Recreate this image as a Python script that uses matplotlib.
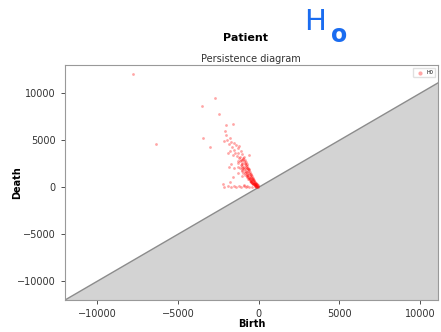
import numpy as np
from matplotlib import pyplot as plt

# birth / death pairs (H0)
birth_far = [-7780, -2720, -3510, -2480, -3470, -6380, -3015, -2000, -1590, -2060,
             -2040, -2170, -1960, -1800, -600, -2230, -2170, -1590]
death_far = [12070, 9520, 8670, 7750, 5200, 4600, 4320, 6580, 6690, 5980,
             5520, 4920, 5020, 5280, 3400, 320, 70, 1130]

birth_mid = [-1850, -1700, -1500, -1400, -1650, -1300, -1200, -1550, -1750, -1100,
             -1450, -1250, -1000, -1350, -1150, -1600, -1900, -950, -1050, -1250,
             -1700, -1850, -1550, -1300, -1050, -1800, -1500, -1200, -900, -700,
             -1000, -850]
death_mid = [4600, 4800, 4700, 4500, 4300, 4200, 4400, 4000, 3900, 3900,
             3700, 3600, 3500, 3300, 3200, 3400, 3600, 3100, 2900, 2800,
             2500, 2200, 2000, 1500, 1200, 600, 100, 150, 200, 100,
             2000, 2500]

birth_dense = [-950, -900, -880, -850, -820, -800, -780, -760, -740, -720,
               -700, -680, -660, -640, -620, -600, -580, -560, -540, -520,
               -500, -480, -460, -440, -420, -400, -380, -360, -340, -320,
               -300, -280, -260, -240, -220, -200, -180, -160, -140, -120,
               -100, -80, -60, -40, -20,
               -1000, -900, -800, -700, -650, -550, -450, -350, -1100, -1000,
               -850, -750, -600, -500, -400, -300, -250, -150,
               -1900, -1700, -1400, -1100, -900, -800, -600, -400]
death_dense = [3000, 2800, 3200, 2600, 2900, 2400, 2700, 2200, 2500, 2000,
               2300, 1900, 2100, 1700, 1900, 1500, 1800, 1400, 1600, 1200,
               1450, 1100, 1300, 950, 1150, 850, 1000, 750, 900, 650,
               800, 550, 700, 450, 600, 400, 500, 300, 400, 250,
               300, 150, 200, 100, 80,
               2600, 2200, 1900, 1600, 1300, 1000, 700, 500, 2400, 1800,
               1500, 1200, 900, 700, 450, 300, 200, 150,
               100, 80, 60, 50, 120, 60, 50, 30]

# second pass along the stripe (wider band)
birth_band = [-1200, -1150, -1100, -1050, -1000, -950, -900, -850, -800, -750,
              -700, -650, -600, -550, -500, -450, -400, -350, -300, -250,
              -200, -150, -100, -1300, -1250, -1150, -1050, -950, -850, -750,
              -650, -550, -450, -350, -250, -150]
death_band = [3100, 2800, 2900, 2500, 2300, 2100, 1900, 1750, 1600, 1450,
              1300, 1100, 1000, 850, 750, 600, 500, 400, 300, 250,
              150, 100, 50, 2600, 2200, 2000, 1700, 1500, 1300, 1050,
              850, 650, 550, 350, 120, 60]

birth = np.array(birth_far + birth_mid + birth_dense + birth_band)
death = np.array(death_far + death_mid + death_dense + death_band)

fig = plt.figure(figsize=(4.41, 3.32), dpi=100)
ax = fig.add_axes([0.147, 0.096, 0.846, 0.708])

lo, hi = -12000, 11100
ax.fill_between([lo, hi], [lo, hi], lo, color='#d3d3d3', zorder=0)
ax.plot([lo, hi], [lo, hi], color='#8c8c8c', lw=1, zorder=1)
ax.scatter(birth, death, s=4, color='red', alpha=0.35, lw=0, label='H0', zorder=2)

ax.set_xlim(lo, hi)
ax.set_ylim(lo, 13000)
ax.set_xticks([-10000, -5000, 0, 5000, 10000])
ax.set_yticks([-10000, -5000, 0, 5000, 10000])
ax.tick_params(labelsize=7, colors='#333333', length=3, width=0.6)
for sp in ax.spines.values():
    sp.set_color('#999999')
ax.set_xlabel('Birth', fontsize=7, fontweight='bold')
ax.set_ylabel('Death', fontsize=7, fontweight='bold')
ax.xaxis.set_label_coords(0.5, -0.08)
ax.yaxis.set_label_coords(-0.115, 0.5)
ax.set_title('Persistence diagram', fontsize=7, color='#333333', pad=2)
fig.text(0.556, 0.885, 'Patient', ha='center', va='center', fontsize=8, fontweight='bold')
ax.legend(loc='upper right', fontsize=3.5, markerscale=1.5, handletextpad=0.2,
          borderpad=0.5, framealpha=0.6)

# hand-written annotation
fig.text(0.715, 0.935, 'H', color='#1a6cf0', fontsize=21, ha='center', va='center')
fig.text(0.77, 0.895, 'o', color='#1a6cf0', fontsize=17, ha='center', va='center',
         fontweight='bold')

plt.savefig('out.png', dpi=100)
